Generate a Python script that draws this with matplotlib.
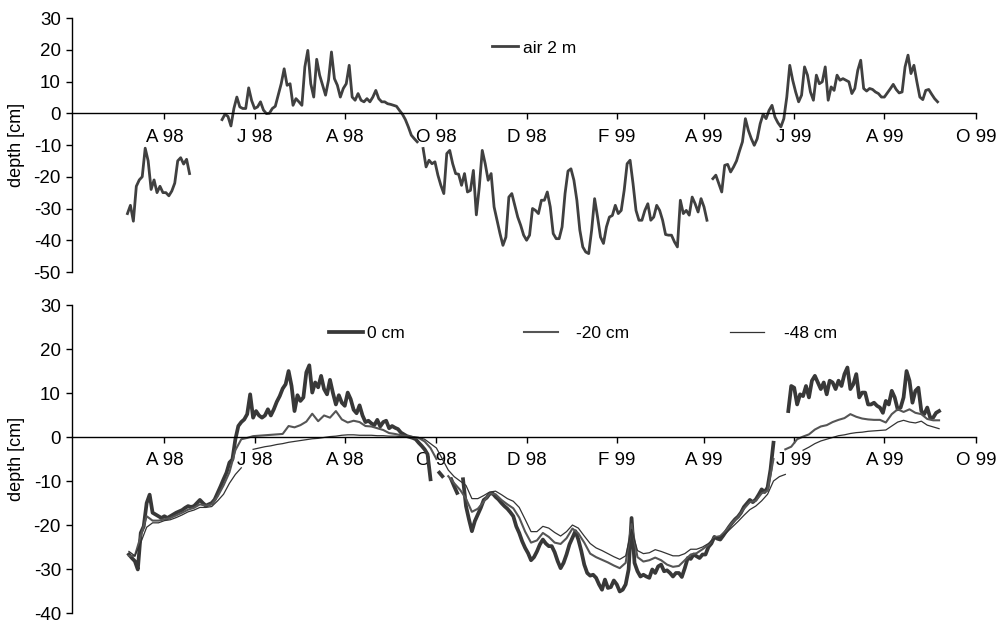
import numpy as np
import matplotlib
matplotlib.use('Agg')
import matplotlib.pyplot as plt
from matplotlib.legend import Legend

plt.rcParams['font.family'] = ['Liberation Sans', 'DejaVu Sans']
plt.rcParams['axes.unicode_minus'] = False

# x axis in days since 1 Feb 1998
tick_days = [59, 120, 181, 243, 304, 365, 424, 485, 546, 608]
tick_labels = ['A 98', 'J 98', 'A 98', 'O 98', 'D 98', 'F 99', 'A 99', 'J 99', 'A 99', 'O 99']

# air 2 m, one value every 2nd day, pieces separated by gaps
air_starts = [34, 98, 234, 430]
air_a = [-31.6, -29, -34, -23, -21, -20, -11, -15, -24, -21, -25, -23, -25, -25, -26, -24.5,
         -22, -15, -14, -16, -14.5, -19]
air_b = [-2.0, -0.3, -1, -4, 1.5, 5.1, 2, 1.5, 1.5, 8, 4, 1.5, 2, 3.6, 1, -0.1, 0, 1.5, 2.2,
         5.7, 9.3, 14, 8.8, 9.3, 2.5, 4.6, 3.6, 2.5, 14.6, 19.8, 9.3, 5.1, 17, 12, 8.8, 5.7,
         10.4, 19.3, 10.9, 8.8, 5.1, 7.8, 9.3, 15.1, 5.1, 4.1, 6.2, 4.1, 3.6, 4.6, 3.6, 5.1,
         7.2, 4.6, 3.6, 3.6, 3, 2.8, 2.5, 2.2, 0.9, -0.3, -2, -4.3, -6.9, -8, -9]
air_c = [-11.1, -16.9, -14.8, -15.9, -15.3, -19.5, -22.7, -25.3, -12.7, -11.7, -15.9, -19,
         -19.2, -22.7, -19, -24.8, -24.3, -18, -32, -23.2, -11.7, -15.9, -21.1, -19, -29.5,
         -33.7, -37.9, -41.6, -39, -26.4, -25.3, -29, -32.7, -35.3, -38.4, -40, -38.4, -30,
         -30.6, -31.6, -27.4, -27.4, -24.8, -29.5, -37.9, -39.5, -39.5, -35.8, -25.3, -18.2,
         -17.5, -21.1, -27.4, -36.8, -42.1, -43.7, -44.2, -36.8, -26.9, -32.7, -39, -41,
         -35.8, -32.7, -32.2, -29, -31.6, -30.6, -24.3, -15.9, -14.8, -22.2, -30.6, -33.7,
         -33.7, -30.6, -28.5, -33.7, -32.7, -29, -30.6, -33.7, -38.2, -38.4, -38.4, -40.5,
         -42.1, -27.4, -31.6, -30.6, -32.1, -26.4, -28.5, -31.1, -26.9, -29.5, -33.7]
air_d = [-20.6, -19.5, -22.2, -24.8, -16.4, -16.1, -18.5, -16.9, -15, -11.9, -9, -1.7, -5.4,
         -8, -10.1, -8, -3.3, -0.3, -1.7, 0.9, 2.5, -1.2, -3, -4.3, -1.7, 5.1, 15.1, 10.4, 6.7,
         3.6, 5.7, 14.6, 12, 6.7, 4.1, 12, 9.3, 9.9, 14.6, 4.1, 8.3, 7.2, 12, 10.4, 10.9, 10.4,
         9.9, 6.2, 7.8, 13.5, 16.7, 7.8, 7, 7.8, 7.5, 6.7, 6.2, 5.1, 5.1, 6.4, 7.7, 9.1, 7.5,
         6.4, 6.7, 14.6, 18.3, 12.5, 15.1, 9.9, 5.1, 4.3, 7.2, 7.5, 6, 4.6, 3.6]

# soil 0 cm, every 2nd day
s0_starts = [35, 245, 253, 261, 481]
s0_a = [-26.7, -27.5, -28.2, -30.1, -21.8, -20.3, -15, -13.1, -17.2, -17.6, -18, -18.4, -18,
        -18.4, -18, -17.6, -17.2, -16.9, -16.6, -16.1, -15.7, -15.9, -15.7, -15, -14.3, -15,
        -15.6, -15.3, -15, -14.2, -12.7, -11.2, -9.6, -8.1, -5.8, -5.1, -0.5, 2.5, 3.4, 4,
        5.2, 9.7, 4.4, 5.9, 4.9, 4.4, 4.9, 6.3, 4.9, 6.3, 8, 9.3, 11, 12, 15, 11.6, 5.9, 9.5,
        8.2, 9, 14.7, 16.3, 10.1, 12.4, 11.3, 13.9, 10.9, 9.7, 13, 10, 7.4, 9.5, 7.8, 7.1,
        10.1, 8.6, 6.2, 5.4, 7.2, 4.9, 3.4, 3.7, 3.1, 2.7, 3.9, 2.4, 3.4, 3.7, 2, 2.5, 2.1,
        1.8, 1, 0.6, 0.2, 0, -0.2, -0.5, -1.3, -2, -2.8, -3.9, -9.6]
s0_b = [-8.1, -8.9]
s0_c = [-9.6, -11.2, -12.7]
s0_d = [-9.6, -15.7, -18.7, -21.4, -19.1, -17.6, -16.1, -14.3, -13.8, -12.9, -12.8, -13.6,
        -14.2, -15, -15.7, -16.3, -17.1, -18, -20.3, -21.8, -23.7, -25.2, -26.4, -28, -27.3,
        -26, -24.4, -23.3, -24.2, -24.8, -24.8, -26.2, -28.2, -29.8, -28.6, -26.7, -24.4,
        -22.9, -21.4, -23.3, -25.9, -29, -30.9, -31.5, -31.3, -32, -33.5, -34.7, -32.4,
        -34.3, -34.1, -32.6, -33.5, -35.1, -34.7, -33.5, -30.1, -18.4, -28.6, -30.5, -31.7,
        -31.3, -31.7, -32, -30.1, -30.9, -29.4, -29, -30.5, -30.3, -30.9, -31.7, -30.9, -30.9,
        -31.8, -29.8, -27.5, -27.7, -26.7, -27.1, -27.5, -26.7, -26.7, -25, -24.2, -22.7,
        -23.1, -23.3, -22.4, -21.4, -20.4, -19.5, -18.7, -18.1, -17.2, -15.9, -15.1, -14.3,
        -14.8, -14.2, -13.1, -11.9, -12.5, -11.5, -7.4, -1.3]
s0_e = [5.9, 11.6, 11.2, 7.4, 9.7, 9.3, 11.6, 9, 12.8, 13.9, 12.4, 10.9, 12.4, 9.7, 12.8, 12.4,
        10.9, 12.8, 11.6, 14.3, 15.8, 10.9, 12, 14.3, 9, 10.1, 10.1, 7.4, 7.4, 7.8, 7.1, 6.7,
        5.5, 8.2, 7.4, 10.5, 9, 6.3, 6.7, 9, 15, 12.8, 7.8, 10.5, 11.2, 5.9, 5.2, 6.7, 4.4,
        4.4, 5.5, 5.9]

# soil -20 cm, every 4th day
s20_starts = [35, 251, 479]
s20_a = [-27, -27, -22.5, -18, -19, -19, -18.7, -18.4, -17.8, -17.2, -16.5, -16.1, -15.3,
         -15.6, -15.3, -13.5, -11, -8, -3, -0.5, -0.2, 0.2, 0.3, 0.4, 0.5, 0.6, 0.7, 2.5, 2.2,
         2.7, 3.5, 5.3, 3.6, 4.9, 4.4, 5.9, 4, 3.3, 3.7, 3.4, 2.5, 2.4, 2, 1.6, 0.9, 0.7, 0.4,
         0.2, 0, -0.2, -1, -2.5, -5]
s20_b = [-8.9, -10.5, -12, -14, -17, -16.3, -14.7, -12.8, -13, -14.3, -15.3, -16.2, -18.3,
         -21.5, -24, -23.5, -21.8, -22.7, -24, -24.3, -23, -20.8, -21.9, -24, -26.5, -27.3,
         -27.9, -28.5, -29.2, -29.8, -28.6, -19.8, -27.3, -28.3, -28, -27.4, -28, -29, -29.5,
         -29.3, -28, -26.7, -26.4, -25.5, -24.5, -22.8, -22.5, -21.2, -19.5, -18.2, -16.3,
         -14.8, -14.5, -12.8, -12.2, -5]
s20_c = [-2.8, -2.2, -0.5, 0.1, 0.6, 1.7, 2.4, 2.7, 3.4, 3.9, 4.3, 5.2, 4.6, 4.2, 4, 3.9, 3.9,
         3.3, 5.2, 6.3, 5.7, 6.3, 5.5, 5.2, 4.1, 3.8, 3.8]

# soil -48 cm, every 4th day
s48_starts = [35, 119, 491]
s48_a = [-26, -27, -24, -20.5, -19.5, -19.5, -19, -18.8, -18.3, -17.7, -17, -16.6, -16, -16,
         -15.8, -14.5, -13, -10.5, -8.5, -7]
s48_b = [-2.8, -2.5, -2.2, -2, -1.7, -1.5, -1.2, -1, -0.8, -0.6, -0.4, -0.3, -0.1, 0.1, 0.2,
         0.4, 0.5, 0.5, 0.4, 0.4, 0.4, 0.3, 0.3, 0.2, 0.2, 0.1, 0.1, 0, -0.1, -0.5, -1.5, -2.5,
         -5, -7.5, -9, -10, -11, -14, -14, -13.3, -12.5, -12.3, -13.1, -14, -14.6, -16, -18.7,
         -21.5, -21.5, -20.3, -20.7, -21.7, -22.5, -21.5, -20, -20.7, -22.5, -24.2, -25.2,
         -25.8, -26.5, -27.2, -27.8, -27, -21, -25.8, -26.5, -26.3, -25.6, -26, -26.5, -27,
         -27, -26.5, -25.5, -25.5, -25, -24.2, -23, -22.8, -21.8, -20.5, -19.2, -17.8, -16.5,
         -15.7, -14.5, -13, -10, -9, -8.5]
s48_c = [-3, -2.3, -1.5, -0.9, -0.5, -0.1, 0.3, 0.5, 0.8, 1, 1.1, 1.3, 1.4, 1.5, 1.6, 2.5, 3.4,
         3.8, 3.4, 3.2, 3.6, 2.7, 2.3, 1.9]


def series(starts, parts, step):
    # join pieces, a nan between them breaks the line
    days, vals = [], []
    for s, p in zip(starts, parts):
        days += list(s + step * np.arange(len(p))) + [s + step * len(p)]
        vals += list(p) + [np.nan]
    return np.array(days, dtype=float), np.array(vals, dtype=float)


def style_axis(ax, ymin, ymax):
    ax.set_xlim(-3.5, 608)
    ax.set_ylim(ymin, ymax)
    ax.spines['top'].set_visible(False)
    ax.spines['right'].set_visible(False)
    ax.spines['bottom'].set_position(('data', 0))
    ax.spines['left'].set_linewidth(1.0)
    ax.spines['bottom'].set_linewidth(1.0)
    ax.set_xticks(tick_days)
    ax.set_xticklabels(tick_labels)
    ax.set_yticks(range(ymin, ymax + 1, 10))
    ax.tick_params(axis='x', direction='out', length=4, width=1, pad=7, labelsize=13.5)
    ax.tick_params(axis='y', direction='out', length=4, width=1, pad=4, labelsize=13.5)
    ax.set_ylabel('depth [cm]', fontsize=13)
    ax.yaxis.set_label_coords(-0.052, 0.5)


fig = plt.figure(figsize=(10.03, 6.23), dpi=100)
ax1 = fig.add_axes([0.0718, 0.5634, 0.9013, 0.4077])
ax2 = fig.add_axes([0.0718, 0.0160, 0.9013, 0.4944])

line_col = '#404040'

x, y = series(air_starts, [air_a, air_b, air_c, air_d], 2)
ax1.plot(x, y, color=line_col, lw=2.0, label='air 2 m')
style_axis(ax1, -50, 30)
ax1.legend(loc='center left', bbox_to_anchor=(0.4646, 0.882), frameon=False, fontsize=12.5,
           handlelength=1.5, handletextpad=0.3, borderpad=0, borderaxespad=0)

x0, y0 = series(s0_starts, [s0_a, s0_b, s0_c, s0_d, s0_e], 2)
x20, y20 = series(s20_starts, [s20_a, s20_b, s20_c], 4)
x48, y48 = series(s48_starts, [s48_a, s48_b, s48_c], 4)
l0, = ax2.plot(x0, y0, color='#383838', lw=2.7)
l20, = ax2.plot(x20, y20, color='#555555', lw=1.5)
l48, = ax2.plot(x48, y48, color='#333333', lw=0.9)
style_axis(ax2, -40, 30)

leg_pos = [0.2843, 0.4999, 0.7279]
leg_pad = [0.25, 1.05, 1.15]
for h, lab, xp, tp in zip([l0, l20, l48], ['0 cm', '-20 cm', '-48 cm'], leg_pos, leg_pad):
    lg = Legend(ax2, [h], [lab], loc='center left', bbox_to_anchor=(xp, 0.909), frameon=False,
                fontsize=12.5, handlelength=1.95, handletextpad=tp, borderpad=0,
                borderaxespad=0)
    ax2.add_artist(lg)

fig.savefig('out.png', dpi=100, facecolor='white')
